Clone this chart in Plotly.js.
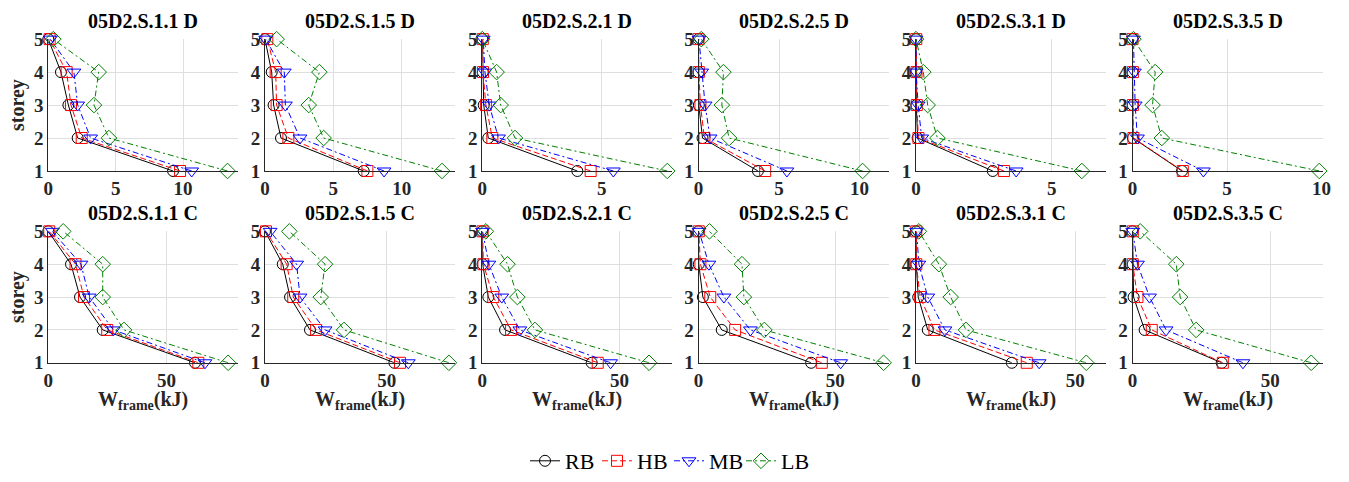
<!DOCTYPE html>
<html><head><meta charset="utf-8">
<script src="https://cdn.plot.ly/plotly-3.0.1.min.js"></script>
<style>
body{margin:0;background:#fff}#chart{width:1349px;height:482px}
</style>
</head><body><div id="chart"></div>
<script>
// storeys (1..5)
const storeys = [1, 2, 3, 4, 5];
const seriesNames = ['RB', 'HB', 'MB', 'LB'];
const titlesD = ['05D2.S.1.1 D', '05D2.S.1.5 D', '05D2.S.2.1 D', '05D2.S.2.5 D', '05D2.S.3.1 D', '05D2.S.3.5 D'];
const titlesC = ['05D2.S.1.1 C', '05D2.S.1.5 C', '05D2.S.2.1 C', '05D2.S.2.5 C', '05D2.S.3.1 C', '05D2.S.3.5 C'];

// W_frame (kJ), values for storey 1..5, one array per panel (D row)
const RB_D = [[9.26, 2.18, 1.49, 0.94, 0], [7.22, 1.17, 0.63, 0.49, 0], [3.98, 0.25, 0.06, 0.02, 0], [3.69, 0.25, 0.02, 0.0, 0], [2.83, 0.06, 0.01, 0.0, 0], [2.62, 0.02, 0.01, 0.0, 0]];
const HB_D = [[9.78, 2.48, 1.68, 1.36, 0.1], [7.49, 1.71, 0.85, 0.78, 0.17], [4.54, 0.42, 0.15, 0.03, 0.02], [4.14, 0.37, 0.12, 0.02, 0.0], [3.24, 0.09, 0.03, 0.02, 0.01], [2.66, 0.05, 0.02, 0.02, 0.0]];
const MB_D = [[10.64, 3.14, 2.18, 1.9, 0.15], [8.71, 2.56, 1.49, 1.41, 0.05], [5.49, 0.68, 0.29, 0.11, 0.04], [5.49, 0.72, 0.41, 0.2, 0.03], [3.69, 0.21, 0.08, 0.0, 0.0], [3.75, 0.26, 0.14, 0.1, 0.05]];
const LB_D = [[13.3, 4.5, 3.39, 3.74, 0.37], [12.95, 4.29, 3.2, 3.98, 0.85], [7.75, 1.37, 0.77, 0.6, 0.0], [10.19, 1.9, 1.45, 1.55, 0.17], [6.11, 0.79, 0.43, 0.27, 0.0], [9.88, 1.55, 1.06, 1.2, 0.05]];
// C row
const RB_C = [[62, 23, 13.4, 9.6, 0], [53.2, 18.5, 10.3, 7.3, 0], [39.9, 8.3, 2.2, 0.1, 0], [41.2, 8.5, 1.6, 0.1, 0], [30.1, 3.7, 0.7, 0.1, 0], [32.4, 4.4, 0.4, 0.1, 0]];
const HB_C = [[63.4, 24.9, 15.1, 11.5, 0.4], [55.5, 21, 11.6, 8.9, 0.4], [42.1, 10.5, 4, 0.4, 0.1], [45.1, 13.4, 4.3, 0.7, 0.1], [34.8, 5.8, 1.3, 0.1, 0.1], [32.8, 7, 1.8, 0.1, 0.1]];
const MB_C = [[66.2, 27.5, 17.3, 13.8, 1.7], [58.9, 24.7, 14.4, 13, 2.1], [46.8, 13.7, 7.1, 2.4, 0.1], [52, 19, 9.3, 3.8, 0.2], [38.7, 9.1, 3.7, 0.9, 0.2], [40.1, 12.2, 6.2, 1.8, 0.1]];
const LB_C = [[76, 32, 23, 23, 6.3], [75.6, 32.5, 22.9, 24.7, 10], [60.8, 19.2, 12.8, 9.2, 1.3], [67.7, 24.1, 16.6, 15.9, 4], [53.5, 15.7, 10.9, 7.2, 0.9], [64.9, 23.1, 17.3, 15.9, 2.8]];

// layout config
const W = 1349, H = 482;
const lefts = [48.3, 265, 482.3, 698.5, 916, 1132.5];
const pw = 190;
const xmaxD = [14.1, 13.9, 7.96, 11.8, 7.0, 10.05];
const xmaxC = [80.3, 78.1, 69.3, 69.5, 59.7, 69.0];
const rowTop = [[39.3, 171.7], [232.3, 364.3]];
const styles = [
  {color: '#000000', dash: 'solid', symbol: 'circle-open', size: 11},
  {color: '#ff0000', dash: '6px,3px', symbol: 'square-open', size: 11},
  {color: '#0000ff', dash: '6px,3px,2px,3px', symbol: 'triangle-down-open', size: 12},
  {color: '#008000', dash: '6px,3px,2px,3px', symbol: 'diamond-open', size: 12}
];
const serif = 'Liberation Serif';

const traces = [];
const layout = {
  width: W, height: H, margin: {l: 0, r: 0, t: 0, b: 0},
  font: {family: serif},
  paper_bgcolor: '#fff', plot_bgcolor: '#fff', showlegend: true,
  legend: {orientation: 'h', x: 669 / W, xanchor: 'center', y: 1 - 463 / H, yanchor: 'middle',
    font: {family: serif, size: 22, color: '#000'}, itemwidth: 30, tracegroupgap: 0,
    entrywidth: 27, entrywidthmode: 'pixels'},
  annotations: []
};
const rows = [
  {data: [RB_D, HB_D, MB_D, LB_D], titles: titlesD, xmax: xmaxD, dtick: 5},
  {data: [RB_C, HB_C, MB_C, LB_C], titles: titlesC, xmax: xmaxC, dtick: 50}
];
rows.forEach((row, r) => {
  for (let c = 0; c < 6; c++) {
    const k = r * 6 + c + 1;
    const xa = 'xaxis' + (k === 1 ? '' : k), ya = 'yaxis' + (k === 1 ? '' : k);
    const xr = 'x' + (k === 1 ? '' : k), yr = 'y' + (k === 1 ? '' : k);
    const [top, bot] = rowTop[r];
    layout[xa] = {domain: [lefts[c] / W, (lefts[c] + pw) / W], range: [0, row.xmax[c]], anchor: yr,
      dtick: row.dtick, tick0: 0, showgrid: true, gridcolor: '#dfdfdf', gridwidth: 1, zeroline: false,
      showline: true, linecolor: '#262626', linewidth: 1, ticks: '',
      tickfont: {family: serif, size: 19, color: '#262626', weight: 'bold'}, fixedrange: true};
    layout[ya] = {domain: [1 - bot / H, 1 - top / H], range: [1, 5], anchor: xr,
      dtick: 1, tick0: 1, showgrid: true, gridcolor: '#dfdfdf', gridwidth: 1, zeroline: false,
      showline: true, linecolor: '#262626', linewidth: 1, ticks: '',
      tickfont: {family: serif, size: 19, color: '#262626', weight: 'bold'}, fixedrange: true};
    row.data.forEach((ser, s) => {
      const st = styles[s];
      traces.push({x: ser[c], y: storeys, xaxis: xr, yaxis: yr, type: 'scatter', mode: 'lines+markers',
        name: seriesNames[s], showlegend: k === 1, cliponaxis: false,
        line: {color: st.color, width: 1, dash: st.dash},
        marker: {symbol: st.symbol, size: st.size, color: st.color, line: {color: st.color, width: 1}}});
    });
    const cx = (lefts[c] + pw / 2) / W;
    layout.annotations.push({text: '<b>' + row.titles[c] + '</b>', x: cx, xref: 'paper', y: 1 - (r === 0 ? 21 : 214) / H,
      yref: 'paper', xanchor: 'center', yanchor: 'middle', showarrow: false,
      font: {family: serif, size: 20, color: '#000'}});
    if (r === 1) {
      layout.annotations.push({text: '<b>W<sub>frame</sub>(kJ)</b>', x: cx, xref: 'paper', y: 1 - 402 / H,
        yref: 'paper', xanchor: 'center', yanchor: 'middle', showarrow: false,
        font: {family: serif, size: 20, color: '#262626'}});
    }
    if (c === 0) {
      layout.annotations.push({text: '<b>storey</b>', x: 17 / W, xref: 'paper', y: 1 - ((top + bot) / 2) / H,
        yref: 'paper', xanchor: 'center', yanchor: 'middle', showarrow: false, textangle: -90,
        font: {family: serif, size: 20, color: '#262626'}});
    }
  }
});
Plotly.newPlot('chart', traces, layout, {displayModeBar: false, staticPlot: true});
</script></body></html>
